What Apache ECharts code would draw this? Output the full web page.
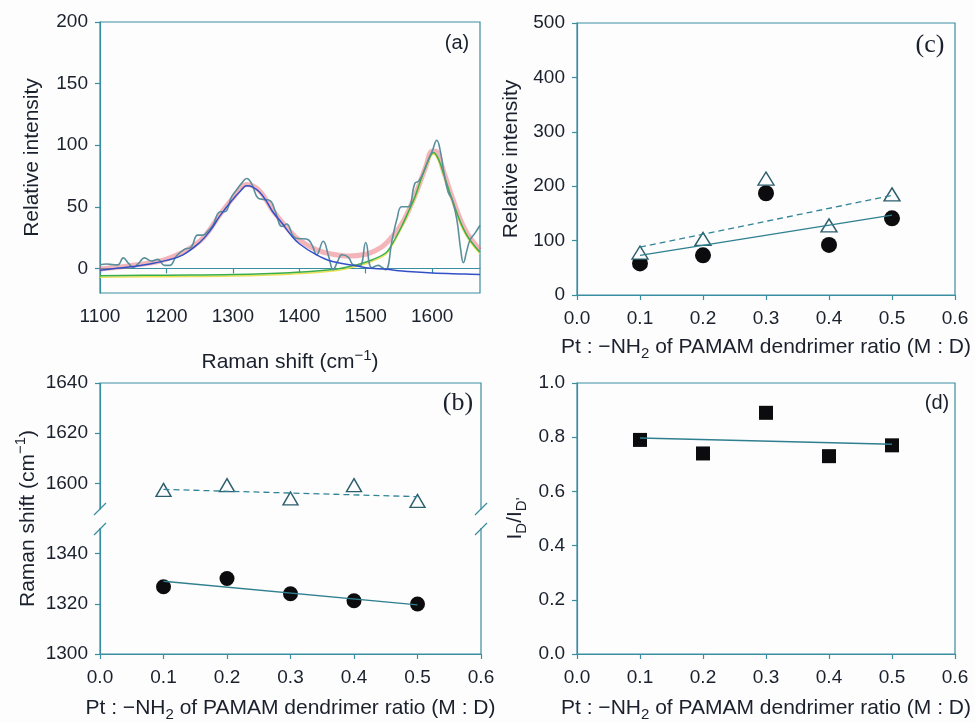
<!DOCTYPE html>
<html>
<head>
<meta charset="utf-8">
<script src="https://cdn.jsdelivr.net/npm/echarts@6/dist/echarts.min.js"></script>
<style>
  html, body { margin: 0; padding: 0; background: #fdfdfe; }
  #chart { width: 975px; height: 723px; }
</style>
</head>
<body>
<div id="chart"></div>
<script>
// (a) Raman spectrum
var rawShift = [1100, 1110, 1120, 1127, 1135, 1143, 1150, 1158, 1167, 1177, 1187, 1197, 1205, 1215, 1227, 1237, 1247, 1255, 1262, 1270, 1281, 1288, 1298, 1306, 1313, 1321, 1328, 1338, 1346, 1356, 1364, 1374, 1381, 1391, 1400, 1406, 1414, 1420, 1426, 1436, 1444, 1451, 1458, 1464, 1474, 1481, 1491, 1500, 1509, 1519, 1524, 1530, 1540, 1547, 1554, 1564, 1574, 1580, 1587, 1594, 1600, 1607, 1612, 1617, 1624, 1630, 1637, 1643, 1647, 1652, 1657, 1665, 1672];
var rawIntensity = [3, 3.5, 3, 2.8, 8.5, 4, 0.8, 4, 8.5, 6, 7.3, 2.4, 2.4, 10, 15.4, 17, 27, 27, 30, 35, 46, 46, 58, 64, 69, 73, 69, 57, 56, 55, 46, 34, 36, 26, 24, 24, 23, 18, 11, 22, 10, -1, 6, 11, 9, 3, 2, 21, 0.5, 2.4, 1, -1, 24, 40, 50, 50, 69, 71, 78, 88, 95, 104, 96, 80, 62, 56, 40, 15, 4.5, 14, 23, 29, 35];

var blueShift = [1100, 1125, 1150, 1175, 1200, 1225, 1250, 1265, 1281, 1300, 1310, 1321, 1330, 1340, 1350, 1360, 1375, 1386, 1400, 1426, 1450, 1487, 1500, 1532, 1550, 1600, 1650, 1672];
var blueFit = [-1.5, 0, 1.5, 3.5, 6.5, 11, 21, 30, 43, 56, 62, 67, 66, 62, 55, 46, 36, 28, 20, 11, 5.5, 1.9, 0.5, -0.8, -2, -3.8, -4.6, -5];

var redShift = [1100, 1150, 1200, 1250, 1281, 1300, 1321, 1340, 1360, 1386, 1400, 1426, 1450, 1475, 1500, 1515, 1530, 1554, 1574, 1590, 1600, 1605, 1617, 1630, 1650, 1672];
var redFit = [-0.5, 2.5, 7.5, 22, 44, 57, 68, 63, 47, 30, 23, 15, 11.5, 10, 11.5, 14.5, 20, 36, 59, 82, 95, 95, 79, 58, 31, 15];

var greenShift = [1100, 1200, 1300, 1386, 1450, 1487, 1510, 1530, 1540, 1554, 1565, 1574, 1583, 1593, 1602, 1610, 1617, 1630, 1650, 1672];
var greenFit = [-6, -5.5, -5, -3.5, -1, 3, 7, 12.5, 20, 34, 47, 58, 72, 86, 94, 88, 77, 56, 29, 13];

// (b)(c)(d) Pt : -NH2 ratio
var ratio = [0.1, 0.2, 0.3, 0.4, 0.5];
var fitEnds = [0.1, 0.5];

var gIntensity = [78, 103, 214, 128, 185];
var dIntensity = [58, 73, 187, 92, 141];
var gIntensityFit = [88, 183];
var dIntensityFit = [73, 147];

var gShift = [1597.4, 1599.3, 1594, 1599.3, 1593];
var dShift = [1326.8, 1330.1, 1324, 1321.2, 1319.9];
var gShiftFit = [1597.6, 1594.7];
var dShiftFit = [1329, 1319.6];

var ratioID = [0.79, 0.74, 0.89, 0.73, 0.77];
var ratioIDFit = [0.797, 0.774];

var ratioTicks = [0, 0.1, 0.2, 0.3, 0.4, 0.5, 0.6];
var shiftTicksA = [1100, 1200, 1300, 1400, 1500, 1600];
var intensityTicksA = [0, 50, 100, 150, 200];
var shiftTicksB = [1300, 1320, 1340, 1600, 1620, 1640];

var FRAME = "#3a8ea0";
var INK = "#1a202c";
var FONT = "Liberation Sans, Arial, sans-serif";
var SERIF = "Liberation Serif, Times New Roman, serif";

function zip(xs, ys) {
  return xs.map(function (x, i) { return [x, ys[i]]; });
}

var richSub = {
  sub: { fontSize: 15, fontFamily: FONT, color: INK, verticalAlign: "bottom", lineHeight: 15 },
  sup: { fontSize: 15, fontFamily: FONT, color: INK, verticalAlign: "top", lineHeight: 15 }
};

function axis(gridIndex, opt) {
  var a = {
    type: "value",
    gridIndex: gridIndex,
    min: opt.min,
    max: opt.max,
    splitLine: { show: false },
    axisLine: { show: true, lineStyle: { color: FRAME, width: 1.2 } },
    axisTick: { show: true, inside: false, length: 5, lineStyle: { color: FRAME, width: 1.2 }, customValues: opt.ticks },
    axisLabel: {
      color: INK, fontSize: 19, fontFamily: FONT, margin: opt.margin,
      customValues: opt.ticks, formatter: opt.fmt || plain
    },
    name: opt.name,
    nameLocation: "middle",
    nameGap: opt.nameGap,
    nameTextStyle: { color: INK, fontSize: 21, fontFamily: FONT, lineHeight: 28, rich: richSub }
  };
  if (opt.breaks) {
    a.breaks = opt.breaks;
    a.breakArea = { show: false, itemStyle: { opacity: 0, borderWidth: 0 } };
  }
  return a;
}

var ratioName = "Pt : \u2212NH{sub|2} of PAMAM dendrimer ratio (M : D)";
function fmt1(v) { return v.toFixed(1); }
function plain(v) { return String(v); }

var grids = [
  { left: 100, top: 22, width: 380, height: 271 },
  { left: 577, top: 23, width: 378, height: 272 },
  { left: 100, top: 383, width: 381, height: 272 },
  { left: 577, top: 383, width: 378, height: 271 }
].map(function (g) {
  g.show = true;
  g.borderColor = FRAME;
  g.borderWidth = 1.2;
  g.backgroundColor = "transparent";
  return g;
});

var xAxes = [
  axis(0, { min: 1100, max: 1672, ticks: shiftTicksA, margin: 14, name: "Raman shift (cm{sup|\u22121})", nameGap: 55 }),
  axis(1, { min: 0, max: 0.6, ticks: ratioTicks, margin: 14, fmt: fmt1, name: ratioName, nameGap: 38 }),
  axis(2, { min: 0, max: 0.6, ticks: ratioTicks, margin: 14, fmt: fmt1, name: ratioName, nameGap: 40 }),
  axis(3, { min: 0, max: 0.6, ticks: ratioTicks, margin: 14, fmt: fmt1, name: ratioName, nameGap: 40 })
];

var yAxes = [
  axis(0, { min: -20, max: 200, ticks: intensityTicksA, margin: 12, name: "Relative intensity", nameGap: 54 }),
  axis(1, { min: 0, max: 500, ticks: [0, 100, 200, 300, 400, 500], margin: 12, name: "Relative intensity", nameGap: 52 }),
  axis(2, { min: 1300, max: 1640, ticks: shiftTicksB, margin: 12, name: "Raman shift (cm{sup|\u22121})", nameGap: 58,
    breaks: [{ start: 1350, end: 1590, gap: 8 }] }),
  axis(3, { min: 0, max: 1.0, ticks: [0, 0.2, 0.4, 0.6, 0.8, 1.0], margin: 12, fmt: fmt1, name: "I{sub|D}/I{sub|D'}", nameGap: 48 })
];

function lineS(name, xi, data, color, width, extra) {
  var s = {
    name: name, type: "line", xAxisIndex: xi, yAxisIndex: xi, data: data,
    showSymbol: false, symbol: "none",
    lineStyle: { color: color, width: width },
    silent: true, animation: false
  };
  for (var k in extra) s[k] = extra[k];
  return s;
}

var triStyle = { color: "#fdfdfe", borderColor: "#2d5e6b", borderWidth: 1.4, opacity: 1 };
var dotStyle = { color: "#0c0c0e", opacity: 1 };

var series = [
  // (a)
  lineS("fit", 0, zip(redShift, redFit), "rgba(236,110,118,0.5)", 5, { smooth: 0.4 }),
  lineS("G", 0, zip(greenShift, greenFit), "#3aae4a", 1.5, {
    smooth: 0.4,
    lineStyle: { color: "#3aae4a", width: 1.5, shadowColor: "rgba(232,222,70,0.9)", shadowOffsetY: 1.5, shadowBlur: 0 }
  }),
  lineS("raw", 0, zip(rawShift, rawIntensity), "#5a8f9c", 1.6, { smooth: 0.45 }),
  lineS("D", 0, zip(blueShift, blueFit), "#3351c6", 1.5, { smooth: 0.4 }),

  // (c)
  lineS("G fit", 1, zip(fitEnds, gIntensityFit), "#2f8597", 1.3, { lineStyle: { color: "#2f8597", width: 1.3, type: [6, 4] } }),
  lineS("D fit", 1, zip(fitEnds, dIntensityFit), "#2f7f8f", 1.3),
  { type: "scatter", xAxisIndex: 1, yAxisIndex: 1, data: zip(ratio, dIntensity), symbol: "circle", symbolSize: 16, itemStyle: dotStyle, animation: false },
  { type: "scatter", xAxisIndex: 1, yAxisIndex: 1, data: zip(ratio, gIntensity), symbol: "triangle", symbolSize: [16, 13], itemStyle: triStyle, animation: false },

  // (b)
  lineS("G fit", 2, zip(fitEnds, gShiftFit), "#2f8597", 1.3, { lineStyle: { color: "#2f8597", width: 1.3, type: [6, 4] } }),
  lineS("D fit", 2, zip(fitEnds, dShiftFit), "#2f7f8f", 1.3),
  { type: "scatter", xAxisIndex: 2, yAxisIndex: 2, data: zip(ratio, dShift), symbol: "circle", symbolSize: 15, itemStyle: dotStyle, animation: false },
  { type: "scatter", xAxisIndex: 2, yAxisIndex: 2, data: zip(ratio, gShift), symbol: "triangle", symbolSize: [15, 13], itemStyle: triStyle, animation: false },

  // (d)
  lineS("fit", 3, zip(fitEnds, ratioIDFit), "#2f7f8f", 1.3),
  { type: "scatter", xAxisIndex: 3, yAxisIndex: 3, data: zip(ratio, ratioID), symbol: "rect", symbolSize: 14, itemStyle: dotStyle, animation: false }
];

// break marks on panel (b), panel letters
var BG = "#fdfdfe";
var graphic = [
  { type: "rect", shape: { x: 96, y: 510, width: 8, height: 18 }, style: { fill: BG }, z: 100 },
  { type: "rect", shape: { x: 477, y: 510, width: 8, height: 18 }, style: { fill: BG }, z: 100 },
  { type: "line", shape: { x1: 94, y1: 515, x2: 106, y2: 503 }, style: { stroke: FRAME, lineWidth: 1.3 }, z: 101 },
  { type: "line", shape: { x1: 94, y1: 535, x2: 106, y2: 523 }, style: { stroke: FRAME, lineWidth: 1.3 }, z: 101 },
  { type: "line", shape: { x1: 475, y1: 515, x2: 487, y2: 503 }, style: { stroke: FRAME, lineWidth: 1.3 }, z: 101 },
  { type: "line", shape: { x1: 475, y1: 535, x2: 487, y2: 523 }, style: { stroke: FRAME, lineWidth: 1.3 }, z: 101 },
  { type: "text", x: 457, y: 43, style: { text: "(a)", font: "20px " + FONT, fill: INK, align: "center", verticalAlign: "middle" } },
  { type: "text", x: 930, y: 45, style: { text: "(c)", font: "26px " + SERIF, fill: INK, align: "center", verticalAlign: "middle" } },
  { type: "text", x: 458, y: 403, style: { text: "(b)", font: "26px " + SERIF, fill: INK, align: "center", verticalAlign: "middle" } },
  { type: "text", x: 937, y: 403, style: { text: "(d)", font: "20px " + FONT, fill: INK, align: "center", verticalAlign: "middle" } }
];

var myChart = echarts.init(document.getElementById("chart"));
myChart.setOption({
  backgroundColor: BG,
  animation: false,
  grid: grids,
  xAxis: xAxes,
  yAxis: yAxes,
  series: series,
  graphic: graphic
});
</script>
</body>
</html>
